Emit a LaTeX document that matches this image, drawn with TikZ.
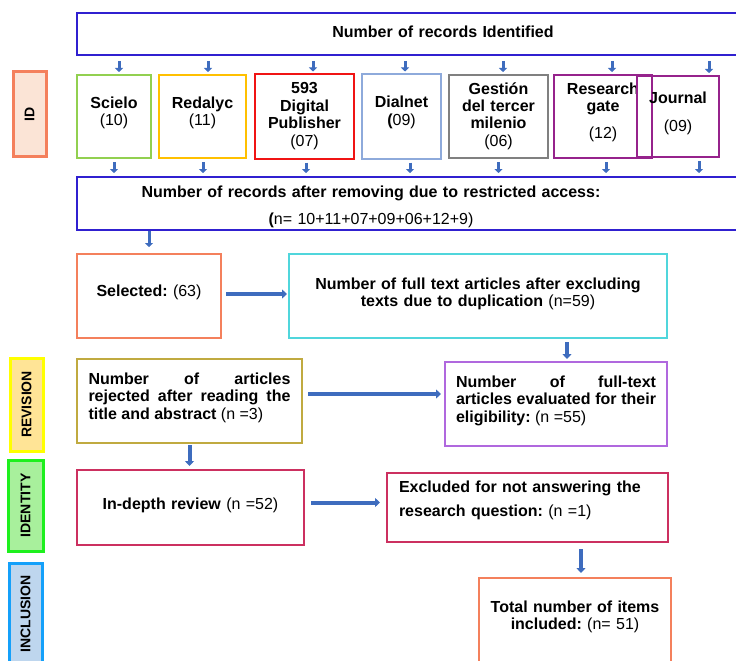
\documentclass[tikz,border=0pt]{standalone}
\usepackage{fontspec}
\setmainfont{Liberation Sans}
\usepackage{xcolor}
\usepackage{tikz}
\usetikzlibrary{arrows.meta, positioning}
\frenchspacing

\definecolor{recblue}{RGB}{48,32,208}
\definecolor{scigreen}{RGB}{146,208,80}
\definecolor{redgold}{RGB}{255,192,0}
\definecolor{pubred}{RGB}{240,20,20}
\definecolor{dialblue}{RGB}{142,170,219}
\definecolor{gesgray}{RGB}{128,128,128}
\definecolor{rgpurple}{RGB}{150,35,140}
\definecolor{coral}{RGB}{244,128,92}
\definecolor{fullcyan}{RGB}{80,214,220}
\definecolor{rejolive}{RGB}{192,170,64}
\definecolor{eligviolet}{RGB}{176,104,222}
\definecolor{crimson}{RGB}{204,48,96}
\definecolor{arrowblue}{RGB}{62,108,190}
\definecolor{idfill}{RGB}{251,228,214}
\definecolor{revfill}{RGB}{255,228,150}
\definecolor{revline}{RGB}{255,255,0}
\definecolor{identfill}{RGB}{168,240,156}
\definecolor{identline}{RGB}{30,240,30}
\definecolor{inclfill}{RGB}{190,214,238}
\definecolor{inclline}{RGB}{20,160,250}

\begin{document}
\begin{tikzpicture}[
  x=1pt, y=-1pt,
  box/.style={draw=#1, line width=2pt, inner sep=0pt, outer sep=0pt,
              align=center, font=\fontsize{16}{17.5}\selectfont},
  side/.style={draw=#1, line width=3pt, rotate=90, inner sep=0pt, outer sep=0pt,
               font=\fontsize{14}{15}\selectfont\bfseries},
  sarrow/.style={arrowblue, line width=3pt, -{Triangle[length=4pt,width=8pt]}},
  barrow/.style={arrowblue, line width=4pt, -{Triangle[length=5pt,width=9pt]}},
]
\useasboundingbox (0,0) rectangle (736,661);

\node[side=coral, fill=idfill, minimum width=84pt, minimum height=33pt]           (id)    at (29.5,114)   {ID};
\node[side=revline, fill=revfill, minimum width=93pt, minimum height=33pt]       (rev)   at (26.5,404.5) {REVISION};
\node[side=identline, fill=identfill, minimum width=91pt, minimum height=35pt]   (ident) at (25.5,505.5) {IDENTITY};
\node[side=inclline, fill=inclfill, minimum width=102pt, minimum height=33pt]    (incl)  at (25.5,614)   {INCLUSION};

\node[box=recblue, anchor=north west, text width=732pt, text height=25pt, text depth=17pt] (idtop) at (77,13)
  {\textbf{Number of records Identified}};

\node[box=scigreen, anchor=north west, text width=74pt, text height=33pt, text depth=50pt] (scielo) at (77,75)
  {\textbf{Scielo}\\(10)};
\node[box=redgold, text width=87pt, text height=33pt, text depth=50pt, right=8pt of scielo] (redalyc)
  {\textbf{Redalyc}\\(11)};
\node[box=pubred, text width=99pt, text height=19pt, text depth=65pt, right=9pt of redalyc] (digital)
  {\textbf{593}\\\textbf{Digital}\\\textbf{Publisher}\\(07)};
\node[box=dialblue, text width=79pt, text height=33pt, text depth=51pt, right=8pt of digital] (dialnet)
  {\textbf{Dialnet}\\\textbf{(}09)};
\node[box=gesgray, text width=99pt, text height=19pt, text depth=64pt, right=8pt of dialnet] (gestion)
  {\textbf{Gestión}\\\textbf{del tercer}\\\textbf{milenio}\\(06)};
\node[box=rgpurple, text width=98pt, text height=19pt, text depth=64pt, right=6pt of gestion] (rgate)
  {\textbf{Research}\\\textbf{gate}\\[9.5pt](12)};
\node[box=rgpurple, text width=82pt, text height=27pt, text depth=54pt, right=-15pt of rgate] (journal)
  {\textbf{Journal}\\[10.5pt](09)};

\node[box=recblue, anchor=north west, text width=732pt, align=left, text height=20pt, text depth=33pt] (removed) at (77,177)
  {\makebox[588pt]{\textbf{Number of records after removing due to restricted access:}}\\[9.5pt]%
   \makebox[588pt]{\textbf{(}n= 10+11+07+09+06+12+9)}};

\node[box=coral, anchor=north west, text width=144pt, text height=42pt, text depth=42pt] (sel) at (77,254)
  {\textbf{Selected:} (63)};
\node[box=fullcyan, text width=378pt, text height=35pt, text depth=49pt, right=68pt of sel] (fulltext)
  {\textbf{Number of full text articles after excluding}\\\textbf{texts due to duplication} (n=59)};

\node[box=rejolive, anchor=north west, text width=202pt, inner xsep=11.5pt, align=justify,
      text height=25pt, text depth=59pt] (reject) at (77,359)
  {\textbf{Number of articles\linebreak rejected after reading the\linebreak title and abstract} (n =3)};
\node[box=eligviolet, anchor=north west, text width=200pt, inner xsep=11pt, align=justify,
      text height=25pt, text depth=59pt] (elig) at (445,362)
  {\textbf{Number of full-text\linebreak articles evaluated for their\linebreak eligibility:} (n =55)};

\node[box=crimson, anchor=north west, text width=227pt, text height=39pt, text depth=36pt] (depth) at (77,470)
  {\textbf{In-depth review} (n =52)};
\node[box=crimson, text width=257pt, inner xsep=12pt, align=left, text height=19pt, text depth=50pt,
      right=83pt of depth] (excl)
  {\textbf{Excluded for not answering the}\\[6.5pt]\textbf{research question:} (n =1)};

\node[box=coral, anchor=north west, text width=192pt, text height=34pt, text depth=100pt] (total) at (479,578)
  {\textbf{Total number of items}\\\textbf{included:} (n= 51)};

\foreach \src/\dt/\db in {scielo/5/0, redalyc/5.5/0.5, digital/8.5/1.5, dialnet/3.5/8.5,
                          gestion/4.5/0, rgate/9/3, journal/31/21} {
  \draw[sarrow, shorten <=6pt, shorten >=3pt] ([xshift=\dt pt]\src.north |- idtop.south) -- ([xshift=\dt pt]\src.north);
  \draw[sarrow, shorten <=4pt, shorten >=4pt] ([xshift=\db pt]\src.south) -- ([xshift=\db pt]\src.south |- removed.north);
}
\draw[sarrow, shorten <=1pt, shorten >=7pt] (removed.south -| sel.north) -- (sel.north);

\draw[barrow, shorten <=5pt, shorten >=2pt] ([yshift=2pt]sel.east) -- ([yshift=2pt]fulltext.west);
\draw[barrow, shorten <=4pt, shorten >=3pt] ([xshift=11pt]elig.north |- fulltext.south) -- ([xshift=11pt]elig.north);
\draw[barrow, shorten <=6pt, shorten >=4pt] ([yshift=7pt]reject.east) -- ([yshift=7pt]reject.east -| elig.west);
\draw[barrow, shorten <=2pt, shorten >=4pt] (reject.south) -- (reject.south |- depth.north);
\draw[barrow, shorten <=7pt, shorten >=7pt] ([yshift=5pt]depth.east) -- ([yshift=5pt]depth.east -| excl.west);
\draw[barrow, shorten <=7pt, shorten >=5pt] ([xshift=6pt]total.north |- excl.south) -- ([xshift=6pt]total.north);
\end{tikzpicture}
\end{document}
